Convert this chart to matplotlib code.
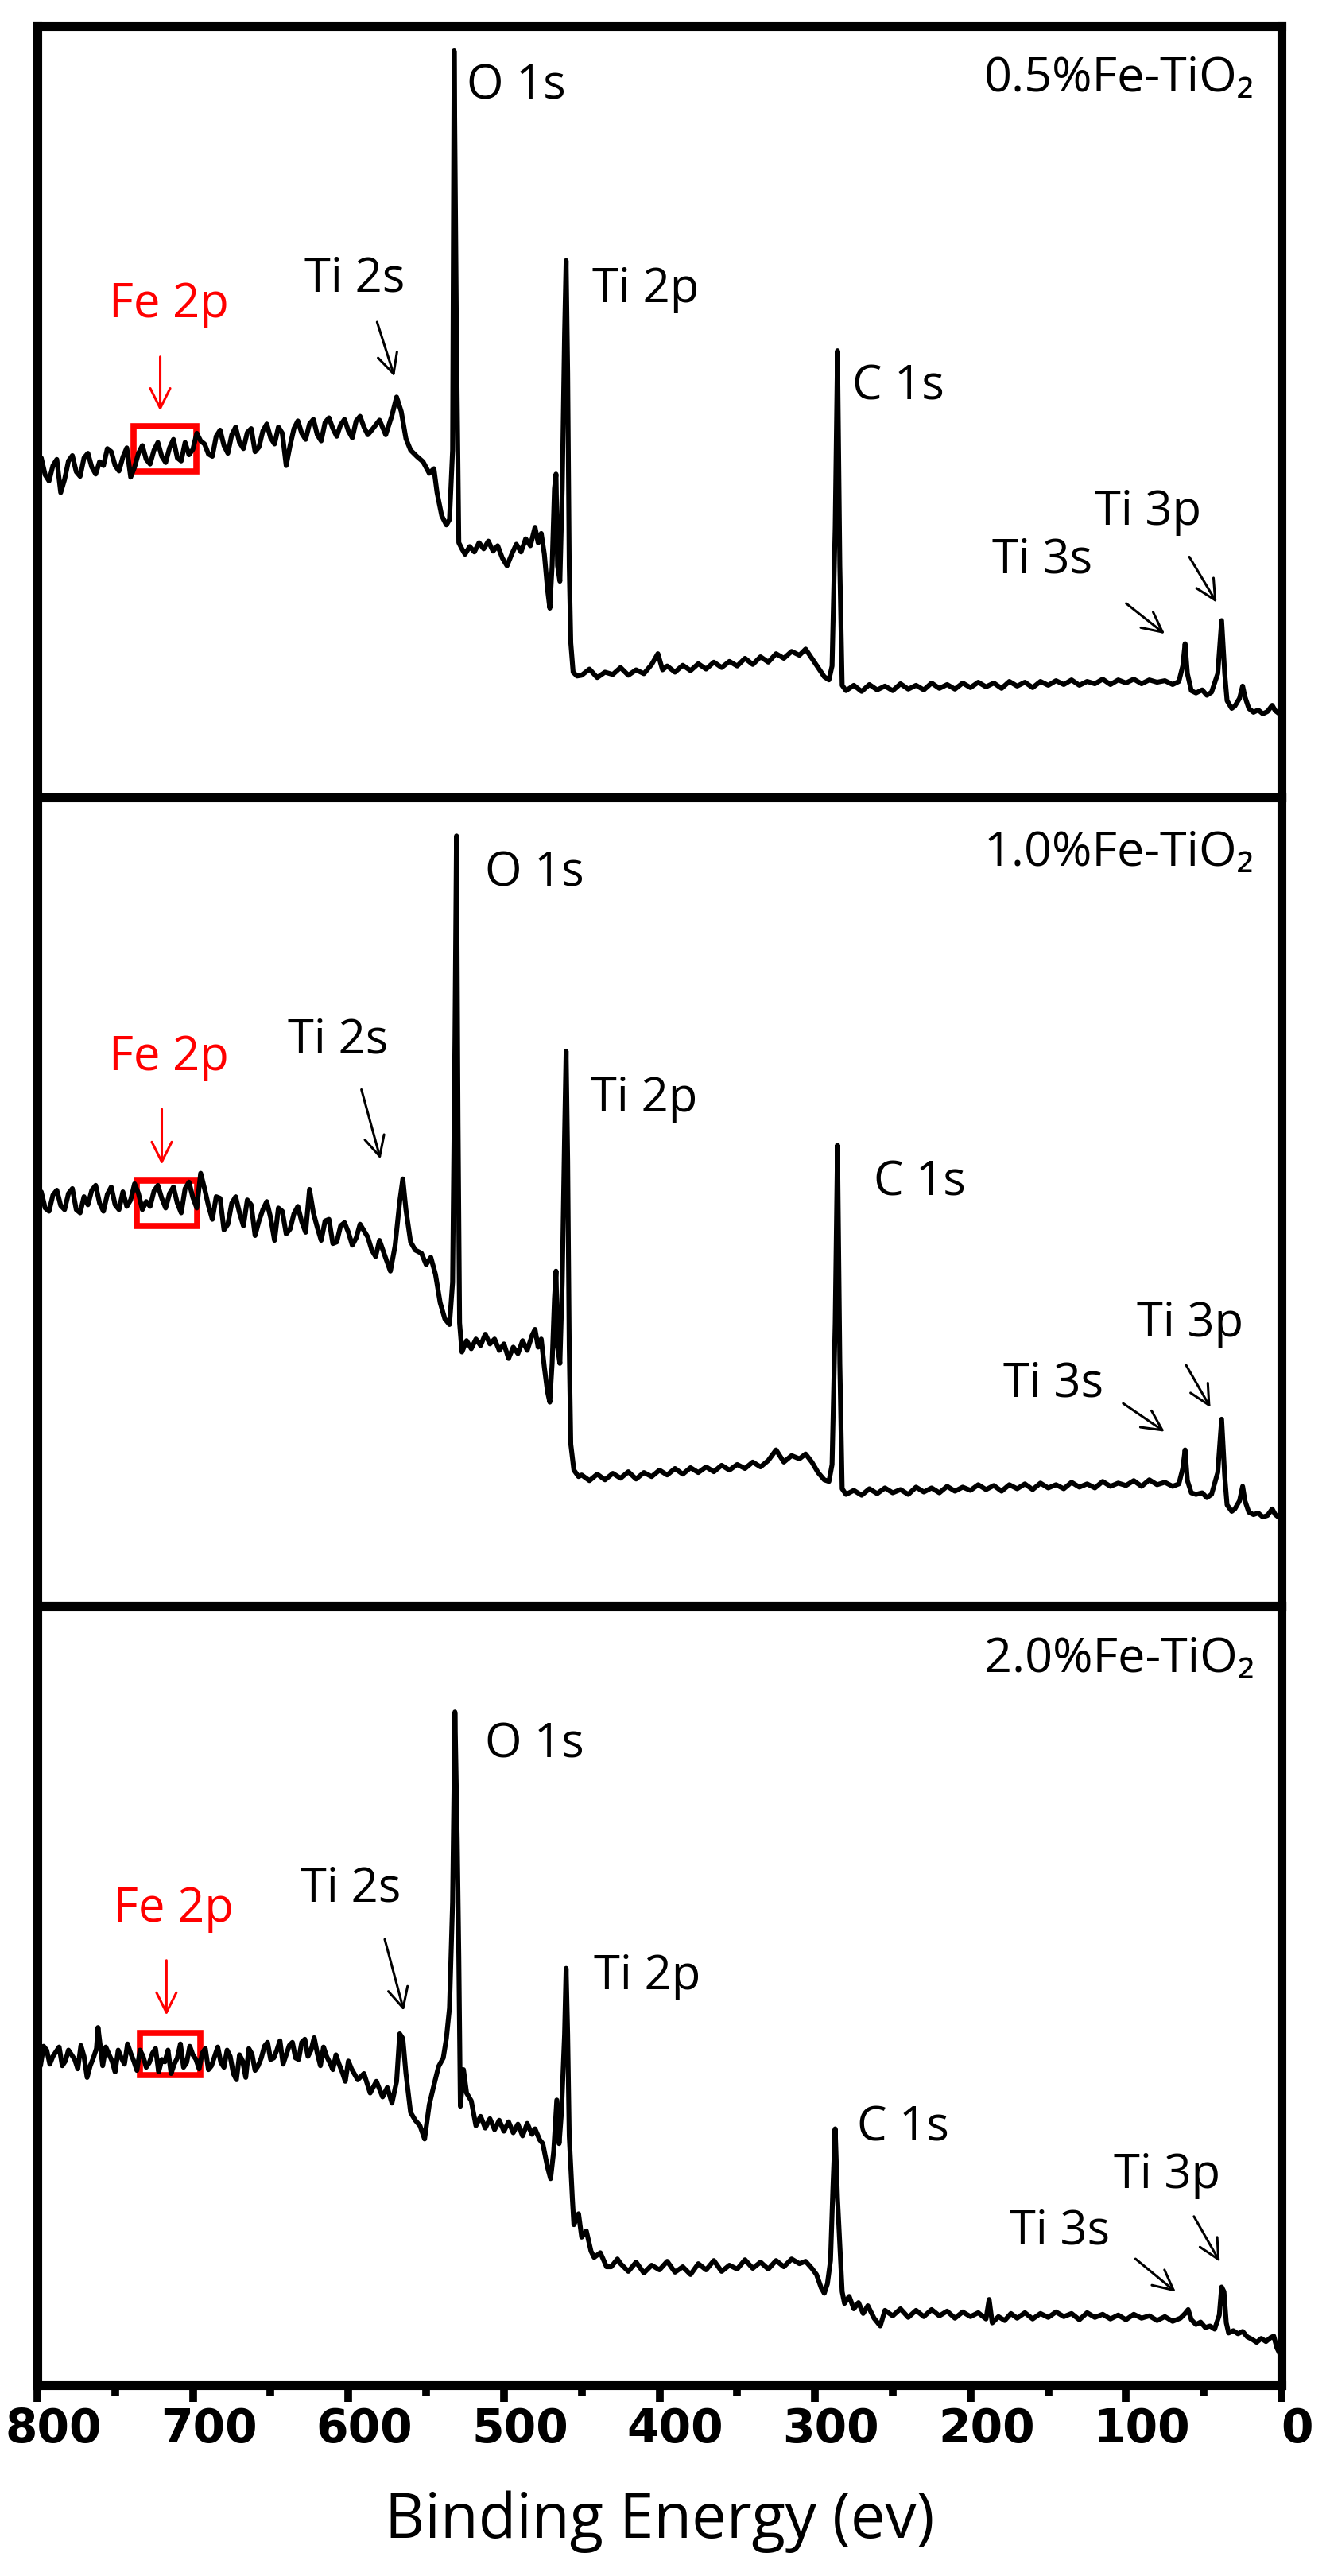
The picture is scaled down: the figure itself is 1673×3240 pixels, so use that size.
"""XPS survey spectra of Fe-doped TiO2 (three stacked panels)."""

import matplotlib
matplotlib.use("Agg")
import matplotlib.pyplot as plt
from matplotlib.patches import Rectangle
from matplotlib.transforms import ScaledTranslation

# ---- data (binding energy in eV, intensity in arbitrary units 0-100) ----
# points are sorted by energy before drawing, so the finer noisy points of the
# high-energy region are listed after the main trace
spec_05 = [
    (800, 42.5), (795, 41.8), (790, 43.0), (785, 39.5), (780, 43.6), (775, 42.2), (770, 44.0), (765, 42.8),
    (760, 43.5), (755, 45.2), (750, 43.0), (745, 44.1), (740, 41.5), (735, 44.6), (730, 43.8), (725, 45.0),
    (720, 44.2), (715, 45.3), (710, 44.0), (705, 46.0), (700, 45.1), (695, 46.2), (690, 44.5), (685, 46.8),
    (680, 45.6), (675, 47.0), (670, 46.0), (665, 47.3), (660, 44.8), (655, 47.5), (650, 46.6), (645, 48.0),
    (640, 43.0), (635, 47.8), (630, 47.2), (625, 48.4), (620, 47.0), (615, 48.6), (610, 47.8), (605, 48.3),
    (600, 47.5), (595, 48.8), (590, 48.0), (585, 47.6), (580, 48.9), (576, 47.0), (572, 49.5), (569, 51.9),
    (566, 50.0), (563, 46.5), (560, 45.0), (556, 44.2), (552, 43.5), (548, 42.0), (545, 42.6), (543, 39.5),
    (540, 36.5), (537, 35.3), (535, 36.0), (533, 45.0), (532, 96.8), (530.5, 60.0), (529, 33.0), (527, 32.2),
    (525, 31.5), (522, 32.5), (519, 31.8), (516, 33.0), (513, 32.2), (510, 33.2), (507, 31.9), (504, 32.6),
    (501, 31.0), (498, 30.0), (495, 31.5), (492, 32.8), (489, 31.8), (486, 33.5), (483, 32.6), (480, 35.0),
    (478, 33.0), (476, 34.2), (474, 31.5), (472, 27.0), (470.5, 24.5), (469, 30.0), (467.5, 40.0), (466.5, 41.9),
    (465.5, 30.0), (464, 28.0), (462.5, 40.0), (461, 60.0), (460, 69.6), (459, 55.0), (458, 30.0), (457, 20.0),
    (455.5, 16.2), (453, 15.7), (450, 15.8), (445, 16.6), (440, 15.5), (435, 16.2), (430, 15.9), (425, 16.8),
    (420, 15.8), (415, 16.5), (410, 16.0), (405, 17.2), (401, 18.6), (398, 16.5), (395, 17.0), (390, 16.2),
    (385, 17.1), (380, 16.4), (375, 17.3), (370, 16.6), (365, 17.5), (360, 16.8), (355, 17.6), (350, 17.0),
    (345, 18.0), (340, 17.2), (335, 18.2), (330, 17.5), (325, 18.6), (320, 18.0), (315, 18.9), (310, 18.4),
    (306, 19.2), (302, 18.0), (298, 16.8), (294, 15.6), (291, 15.2), (289, 17.0), (287, 35.0), (285.5, 57.9),
    (284, 30.0), (282.5, 14.5), (280, 13.8), (275, 14.5), (270, 13.7), (265, 14.6), (260, 13.9), (255, 14.4),
    (250, 13.8), (245, 14.7), (240, 14.0), (235, 14.5), (230, 13.9), (225, 14.8), (220, 14.1), (215, 14.6),
    (210, 14.0), (205, 14.8), (200, 14.2), (195, 14.9), (190, 14.3), (185, 14.8), (180, 14.1), (175, 15.0),
    (170, 14.4), (165, 14.9), (160, 14.2), (155, 15.0), (150, 14.5), (145, 15.1), (140, 14.6), (135, 15.2),
    (130, 14.5), (125, 15.0), (120, 14.7), (115, 15.3), (110, 14.6), (105, 15.2), (100, 14.8), (95, 15.3),
    (90, 14.7), (85, 15.2), (80, 14.9), (75, 15.1), (70, 14.6), (66, 15.0), (63.5, 17.0), (62, 19.9),
    (60.5, 16.0), (58, 13.8), (55, 13.5), (51, 13.9), (48, 13.2), (45, 13.6), (41, 16.0), (38.5, 22.9),
    (36.5, 16.0), (35, 12.5), (32, 11.5), (30, 11.8), (27, 12.8), (25, 14.4), (23.5, 13.0), (21, 11.5),
    (18, 11.0), (15, 11.3), (12, 10.8), (9, 11.1), (6, 11.9), (4, 11.2), (2, 10.9),
    # finer noise, 800-585 eV
    (797.5, 44.0), (792.5, 41.0), (787.5, 43.8), (782.5, 41.2), (777.5, 44.3), (772.5, 41.6), (767.5, 44.6),
    (762.5, 41.9), (757.5, 43.0), (752.5, 44.8), (747.5, 42.3), (742.5, 45.3), (737.5, 42.8), (732.5, 45.6),
    (727.5, 43.2), (722.5, 46.0), (717.5, 43.4), (712.5, 46.4), (707.5, 43.6), (702.5, 44.4), (697.5, 47.2),
    (692.5, 45.8), (687.5, 44.2), (682.5, 47.6), (677.5, 44.6), (672.5, 48.0), (667.5, 45.2), (662.5, 47.8),
    (657.5, 45.4), (652.5, 48.4), (647.5, 45.8), (642.5, 47.2), (637.5, 45.6), (632.5, 48.8), (627.5, 46.4),
    (622.5, 49.0), (617.5, 46.2), (612.5, 49.2), (607.5, 46.8), (602.5, 49.0), (597.5, 46.6), (592.5, 49.4),
    (587.5, 47.0),
]

spec_10 = [
    (800, 50.0), (795, 49.2), (790, 50.8), (785, 49.5), (780, 51.0), (775, 49.0), (770, 50.6), (765, 51.4),
    (760, 49.8), (755, 50.9), (750, 49.6), (745, 51.2), (740, 50.2), (735, 51.0), (730, 50.0), (725, 51.3),
    (720, 50.4), (715, 51.0), (710, 49.8), (705, 51.6), (700, 50.5), (695, 53.5), (690, 49.5), (685, 50.6),
    (680, 46.5), (675, 49.8), (670, 48.6), (665, 50.2), (660, 45.8), (655, 49.0), (650, 48.0), (645, 49.2),
    (640, 46.0), (635, 48.5), (630, 47.5), (625, 51.5), (620, 46.8), (615, 47.6), (610, 44.8), (605, 47.0),
    (600, 46.2), (595, 45.5), (590, 46.4), (585, 44.0), (580, 45.2), (576, 43.0), (573, 41.4), (570, 44.5),
    (567, 50.0), (565, 52.8), (563, 49.0), (560, 45.0), (557, 44.0), (553, 43.6), (550, 42.2), (547, 43.1),
    (544, 41.0), (541, 37.5), (538, 35.5), (535, 34.8), (533, 40.0), (531.5, 70.0), (530.5, 95.2), (529.5, 60.0),
    (528.5, 35.0), (527, 31.4), (524, 32.8), (521, 31.8), (518, 33.0), (515, 32.2), (512, 33.6), (509, 32.4),
    (506, 33.0), (503, 31.6), (500, 32.4), (497, 30.6), (494, 32.0), (491, 31.2), (488, 32.8), (485, 31.6),
    (482, 33.4), (480, 34.2), (478, 32.0), (476, 33.0), (474, 29.5), (472, 26.5), (470.5, 25.2), (469, 30.0),
    (467.5, 38.0), (466.5, 41.4), (465.5, 32.0), (464, 30.0), (462.5, 40.0), (461, 58.0), (460, 68.6), (459, 55.0),
    (458, 32.0), (457, 20.0), (455, 16.8), (452, 16.0), (450, 16.2), (445, 15.5), (440, 16.3), (435, 15.6),
    (430, 16.4), (425, 15.8), (420, 16.6), (415, 15.7), (410, 16.5), (405, 16.0), (400, 16.8), (395, 16.2),
    (390, 17.0), (385, 16.3), (380, 17.1), (375, 16.5), (370, 17.2), (365, 16.6), (360, 17.4), (355, 16.8),
    (350, 17.5), (345, 17.0), (340, 17.8), (335, 17.2), (330, 18.0), (325, 19.3), (320, 17.8), (315, 18.6),
    (310, 18.2), (306, 18.8), (302, 17.8), (298, 16.5), (294, 15.6), (291, 15.4), (289, 17.5), (287, 35.0),
    (285.5, 57.0), (284, 30.0), (282.5, 14.5), (280, 13.8), (275, 14.3), (270, 13.7), (265, 14.5), (260, 13.9),
    (255, 14.6), (250, 14.0), (245, 14.4), (240, 13.8), (235, 14.7), (230, 14.1), (225, 14.6), (220, 14.0),
    (215, 14.8), (210, 14.2), (205, 14.7), (200, 14.3), (195, 15.0), (190, 14.4), (185, 14.9), (180, 14.2),
    (175, 15.0), (170, 14.5), (165, 15.1), (160, 14.4), (155, 15.2), (150, 14.6), (145, 15.0), (140, 14.5),
    (135, 15.3), (130, 14.7), (125, 15.1), (120, 14.6), (115, 15.4), (110, 14.8), (105, 15.2), (100, 14.9),
    (95, 15.5), (90, 14.8), (85, 15.6), (80, 15.0), (75, 15.3), (70, 14.8), (66, 15.1), (63.5, 17.0),
    (62, 19.3), (60.5, 15.5), (58, 14.0), (55, 13.8), (51, 14.0), (48, 13.4), (45, 13.8), (41, 16.5),
    (38.5, 23.1), (36.5, 16.0), (35, 12.5), (32, 11.7), (30, 12.0), (27, 13.0), (25, 14.8), (23.5, 13.0),
    (21, 11.6), (18, 11.3), (15, 11.5), (12, 11.0), (9, 11.2), (6, 12.0), (4, 11.3), (2, 11.0),
    # finer noise, 800-580 eV
    (797.5, 51.2), (792.5, 48.8), (787.5, 51.4), (782.5, 49.0), (777.5, 51.6), (772.5, 48.6), (767.5, 49.6),
    (762.5, 52.0), (757.5, 48.8), (752.5, 51.8), (747.5, 49.0), (742.5, 49.4), (737.5, 52.2), (732.5, 49.0),
    (727.5, 49.4), (722.5, 52.0), (717.5, 49.2), (712.5, 51.8), (707.5, 48.6), (702.5, 52.4), (697.5, 49.2),
    (692.5, 51.6), (687.5, 47.8), (682.5, 50.4), (677.5, 47.2), (672.5, 50.6), (667.5, 47.0), (662.5, 49.6),
    (657.5, 47.6), (652.5, 50.0), (647.5, 45.2), (642.5, 48.8), (637.5, 46.6), (632.5, 49.4), (627.5, 46.2),
    (622.5, 48.6), (617.5, 45.2), (612.5, 47.8), (607.5, 45.0), (602.5, 47.4), (597.5, 44.6), (592.5, 47.2),
    (587.5, 45.6), (582.5, 43.2),
]

spec_20 = [
    (800, 42.0), (796, 43.5), (792, 41.2), (788, 42.8), (784, 41.0), (780, 43.0), (776, 41.8), (772, 43.6),
    (768, 39.5), (764, 42.0), (761, 45.9), (758, 41.0), (754, 42.5), (750, 40.2), (746, 42.0), (742, 43.8),
    (738, 41.6), (734, 43.0), (730, 40.8), (726, 42.6), (722, 40.2), (718, 41.5), (714, 40.0), (710, 42.0),
    (706, 40.8), (702, 43.5), (698, 41.8), (694, 42.6), (690, 40.5), (686, 42.2), (682, 41.4), (678, 43.0),
    (674, 40.0), (670, 42.4), (666, 39.5), (662, 42.5), (658, 41.0), (654, 43.5), (650, 41.8), (646, 43.0),
    (642, 41.2), (638, 43.6), (634, 42.0), (630, 44.0), (626, 42.2), (622, 44.6), (618, 41.0), (614, 42.2),
    (610, 40.5), (606, 41.2), (602, 39.0), (598, 40.6), (594, 39.2), (590, 40.0), (586, 37.5), (582, 39.0),
    (578, 37.0), (575, 38.2), (572, 36.2), (569, 39.0), (567, 45.1), (565, 44.5), (563, 40.0), (560, 35.0),
    (557, 34.0), (554, 33.3), (551, 31.6), (548, 36.0), (545, 38.5), (542, 40.9), (539, 42.0), (537, 44.5),
    (535, 48.4), (533, 62.0), (531.5, 86.4), (530, 70.0), (529, 55.0), (528, 35.8), (526, 40.5), (524, 37.5),
    (521, 36.5), (518, 33.3), (515, 34.5), (512, 33.0), (509, 34.2), (506, 32.8), (503, 34.0), (500, 32.6),
    (497, 33.8), (494, 32.4), (491, 33.5), (488, 32.0), (485, 33.6), (482, 32.2), (480, 32.9), (477, 31.5),
    (475, 31.0), (472, 28.0), (470, 26.5), (468, 30.0), (466, 36.6), (464.5, 31.0), (463, 35.0), (461, 45.0),
    (460, 53.5), (459, 45.0), (458, 32.0), (456, 24.0), (455, 20.6), (452, 22.0), (450, 19.0), (447, 19.8),
    (444, 17.2), (442, 16.4), (438, 17.0), (434, 15.2), (431, 15.2), (427, 16.2), (425, 15.6), (420, 14.6),
    (415, 15.8), (410, 14.4), (405, 15.4), (400, 14.8), (395, 15.9), (390, 14.5), (385, 15.2), (380, 14.2),
    (375, 15.6), (370, 14.8), (365, 16.0), (360, 14.6), (355, 15.4), (350, 14.9), (345, 16.1), (340, 15.0),
    (335, 15.8), (330, 14.9), (325, 16.0), (320, 15.2), (315, 16.2), (310, 15.6), (306, 15.9), (302, 15.0),
    (299, 14.2), (296, 12.5), (294, 11.8), (292, 13.0), (290, 16.0), (288.5, 25.0), (287, 32.9), (285.5, 24.0),
    (284, 18.0), (282.5, 12.0), (281, 10.5), (278, 11.4), (275, 9.8), (272, 10.6), (269, 9.2), (266, 10.2),
    (262, 8.6), (258, 7.6), (255, 9.6), (250, 8.9), (245, 9.8), (240, 8.7), (235, 9.6), (230, 8.8),
    (225, 9.7), (220, 8.9), (215, 9.5), (210, 8.6), (205, 9.4), (200, 8.8), (195, 9.3), (190, 8.5),
    (188, 11.0), (186, 8.0), (182, 8.8), (178, 8.3), (174, 9.2), (170, 8.6), (165, 9.3), (160, 8.5),
    (155, 9.2), (150, 8.7), (145, 9.4), (140, 8.8), (135, 9.2), (130, 8.4), (125, 9.3), (120, 8.7),
    (115, 9.1), (110, 8.5), (105, 9.0), (100, 8.4), (95, 9.1), (90, 8.6), (85, 8.9), (80, 8.3),
    (75, 8.8), (70, 8.2), (65, 8.6), (62, 9.2), (60, 9.7), (58, 8.4), (55, 7.8), (52, 8.1),
    (49, 7.4), (46, 7.6), (43, 7.2), (40, 9.0), (38.5, 12.6), (37, 12.0), (35.5, 8.0), (34, 6.7),
    (31, 7.0), (28, 6.6), (25, 6.9), (22, 6.2), (19, 5.9), (16, 5.5), (13, 6.0), (10, 5.6),
    (7, 6.1), (5, 6.3), (3, 4.8), (1.5, 4.2),
    # finer noise, 800-600 eV
    (798, 41.0), (794, 43.0), (790, 42.2), (786, 43.4), (782, 41.6), (778, 42.4), (774, 40.6), (770, 42.2),
    (766, 41.0), (762, 43.2), (756, 43.4), (752, 41.6), (748, 43.0), (744, 41.2), (740, 42.6), (736, 40.4),
    (732, 42.2), (728, 41.4), (724, 43.2), (720, 41.8), (716, 43.0), (712, 41.2), (708, 43.8), (704, 41.4),
    (700, 42.4), (696, 40.6), (692, 43.2), (688, 41.0), (684, 43.4), (680, 40.8), (676, 42.2), (672, 39.2),
    (668, 41.6), (664, 43.2), (660, 40.4), (656, 42.0), (652, 44.0), (648, 42.0), (644, 44.2), (640, 42.4),
    (636, 44.0), (632, 41.8), (628, 44.4), (624, 43.0), (620, 42.6), (616, 43.4), (612, 41.4), (608, 42.4),
    (604, 40.2), (600, 41.6),
]

sample_names = ["0.5%Fe-TiO\u2082", "1.0%Fe-TiO\u2082", "2.0%Fe-TiO\u2082"]
spectra = [spec_05, spec_10, spec_20]

# peak labels: (text, energy of left edge, height of centre)
peak_labels = [
    [("O 1s", 524, 92.3), ("Ti 2s", 628, 67.4), ("Ti 2p", 443, 66.0), ("C 1s", 276, 53.3),
     ("Ti 3p", 120, 37.1), ("Ti 3s", 186, 30.8)],
    [("O 1s", 512, 90.7), ("Ti 2s", 639, 70.0), ("Ti 2p", 444, 62.8), ("C 1s", 262, 52.4),
     ("Ti 3p", 93, 35.0), ("Ti 3s", 179, 27.6)],
    [("O 1s", 512, 82.3), ("Ti 2s", 631, 63.8), ("Ti 2p", 442, 52.5), ("C 1s", 273, 33.1),
     ("Ti 3p", 108, 27.0), ("Ti 3s", 175, 19.8)],
]
# black arrows: (tail E, tail I, head E, head I)
peak_arrows = [
    [(582, 61.9, 570, 54.3), (101, 25.3, 74, 21.0), (60, 31.4, 41, 25.0)],
    [(592, 64.1, 579, 55.0), (103, 25.2, 74, 21.4), (62, 30.0, 45, 24.3)],
    [(577, 57.5, 564, 47.8), (95, 16.4, 67, 11.8), (57, 21.9, 39, 15.6)],
]
# Fe 2p marker: label (E, I), arrow (E, tail I, head I), box (E_hi, E_lo, I_lo, I_hi)
fe_label = [(754, 64.0), (754, 67.9), (751, 61.2)]
fe_arrow = [(721, 57.4, 49.8), (720, 61.7, 54.3), (717, 54.8, 47.2)]
fe_box = [(738, 698, 42.2, 48.1), (736, 697, 47.0, 52.6), (734, 695, 39.8, 45.2)]

# ---- figure ----
FONT = ["Open Sans", "Noto Sans", "DejaVu Sans"]
fig = plt.figure(figsize=(16.73, 32.41), dpi=100)

left, width = 47 / 1673, (1612 - 47) / 1673
panel_px = [(34, 1003.5), (1003.5, 2021), (2021, 3001)]

axes = []
for k, (top, bot) in enumerate(panel_px):
    ax = fig.add_axes([left, 1 - bot / 3241, width, (bot - top) / 3241])
    axes.append(ax)

    pts = sorted(spectra[k], key=lambda p: -p[0])
    ev = [p[0] for p in pts]
    inten = [p[1] for p in pts]
    ax.plot(ev, inten, color="black", lw=4.4, solid_joinstyle="round")

    ax.set_xlim(800, 0)
    ax.set_ylim(0, 100)
    ax.set_yticks([])
    for sp in ax.spines.values():
        sp.set_linewidth(8)
        sp.set_color("black")

    ax.text(0.978, 0.916, sample_names[k], transform=ax.transAxes, ha="right",
            va="baseline", fontsize=44, family=FONT)

    for txt, e, h in peak_labels[k]:
        ax.text(e, h, txt, ha="left", va="center", fontsize=43, family=FONT)
    for e0, i0, e1, i1 in peak_arrows[k]:
        ax.annotate("", xy=(e1, i1), xytext=(e0, i0),
                    arrowprops=dict(arrowstyle="->", lw=2.2, color="black", mutation_scale=45))

    fe, fi = fe_label[k]
    ax.text(fe, fi, "Fe 2p", ha="left", va="center", fontsize=43, color="red", family=FONT)
    ae, a0, a1 = fe_arrow[k]
    ax.annotate("", xy=(ae, a1), xytext=(ae, a0),
                arrowprops=dict(arrowstyle="->", lw=2.2, color="red", mutation_scale=45))
    bh, bl, il, ih = fe_box[k]
    ax.add_patch(Rectangle((bl, il), bh - bl, ih - il, fill=False, edgecolor="red", lw=5.5))

    if k < 2:
        ax.set_xticks([])

ax = axes[-1]
ax.set_xticks(range(0, 801, 100))
ax.set_xticks(range(50, 800, 100), minor=True)
ax.tick_params(axis="x", which="major", direction="out", length=15, width=7, pad=4,
               labelsize=42)
ax.tick_params(axis="x", which="minor", direction="out", length=9, width=7)
shift = ScaledTranslation(20 / 100, 0, fig.dpi_scale_trans)
for lab in ax.get_xticklabels():
    lab.set_fontweight("bold")
    lab.set_family("DejaVu Sans")
    lab.set_transform(lab.get_transform() + shift)

ax.set_xlabel("Binding Energy (ev)", fontsize=56, family=FONT, labelpad=34)

fig.savefig("out.png", dpi=100)
